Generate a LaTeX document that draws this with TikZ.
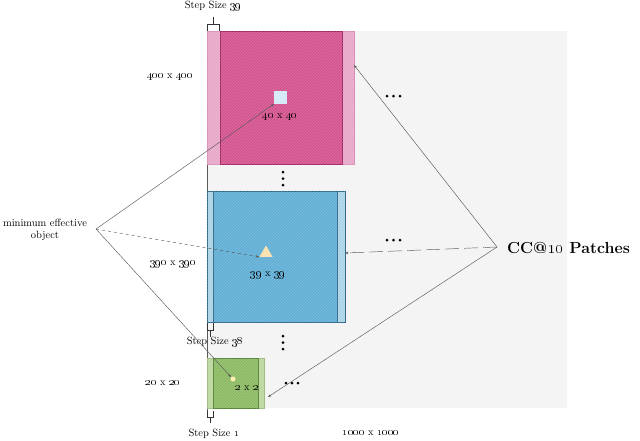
\documentclass[tikz,border=0pt]{standalone}
\usetikzlibrary{patterns,arrows.meta,shapes.geometric}
\definecolor{bgc}{RGB}{244,244,244}
\definecolor{pinkM}{RGB}{212,82,142}
\definecolor{pinkL}{RGB}{232,168,200}
\definecolor{pinkD}{RGB}{160,36,94}
\definecolor{blueM}{RGB}{96,174,214}
\definecolor{blueL}{RGB}{172,212,230}
\definecolor{blueD}{RGB}{46,104,140}
\definecolor{greenM}{RGB}{140,186,98}
\definecolor{greenL}{RGB}{188,215,160}
\definecolor{greenD}{RGB}{84,130,50}
\definecolor{sqc}{RGB}{214,234,248}
\definecolor{tric}{RGB}{248,226,178}
\definecolor{dotc}{RGB}{255,240,176}
\definecolor{linec}{RGB}{90,90,90}
\begin{document}
\begin{tikzpicture}[x=1pt,y=-1pt,
  lbl/.style={font=\fontsize{10.5}{12.5}\selectfont, inner sep=0pt, text=black},
  box/.style={anchor=north west, inner sep=0pt, outer sep=0pt, line width=0.6pt},
  hatch/.style={pattern=north east lines, pattern color=white, opacity=0.2},
  conn/.style={draw=linec, line width=0.45pt},
  tip/.style={-{Stealth[length=3.5pt,width=2.5pt]}},
  vdot/.style={circle, fill=black, inner sep=0pt, minimum size=3pt},
  brk/.style={draw=black!80, line width=0.5pt}]
\useasboundingbox (0,0) rectangle (640,440);
% background panel
\fill[bgc] (207,31) rectangle (567,408);
\draw[linec, line width=0.4pt] (207,24) -- (207,417);

% pink patch (400 x 400)
\node[box, fill=pinkL, draw=pinkL!80!pinkD, minimum width=147pt, minimum height=133pt] (pinkbox) at (207,31) {};
\node[box, fill=pinkM, draw=pinkD, minimum width=122pt, minimum height=133pt] (pinkmain) at (220,31) {};
\fill[hatch] (207,31) rectangle (354,164);
\node[box, fill=sqc, minimum width=13pt, minimum height=13pt] (sq) at (274,91) {};
\node[lbl] (l40) at (280,117) {\oldstylenums{40} x \oldstylenums{40}};

% blue patch (390 x 390)
\node[box, fill=blueL, draw=blueD, minimum width=138pt, minimum height=131pt] (bluebox) at (207,191) {};
\node[box, fill=blueM, draw=blueD, minimum width=124pt, minimum height=131pt] (bluemain) at (213,191) {};
\fill[hatch] (207,191) rectangle (345,322);
\node[regular polygon, regular polygon sides=3, fill=tric, inner sep=0pt, minimum size=15pt] (tri) at (266,253) {};
\node[lbl] (l39) at (268,275) {\oldstylenums{39} x \oldstylenums{39}};

% green patch (20 x 20)
\node[box, fill=greenL, draw=greenL!70!greenD, minimum width=57pt, minimum height=50pt] (greenbox) at (207,358) {};
\node[box, fill=greenM, draw=greenD, minimum width=45pt, minimum height=50pt] (greenmain) at (213,358) {};
\fill[hatch] (207,358) rectangle (264,408);
\node[circle, fill=dotc, inner sep=0pt, minimum size=5pt] (gdot) at (233,379) {};
\node[lbl] (l2) at (247,388) {\oldstylenums{2} x \oldstylenums{2}};

% size labels
\node[lbl] (s400) at (170,77) {\oldstylenums{400} x \oldstylenums{400}};
\node[lbl] (s390) at (173,264) {\oldstylenums{390} x \oldstylenums{390}};
\node[lbl] (s20) at (163,383) {\oldstylenums{20} x \oldstylenums{20}};
\node[lbl] (s1000) at (371,433) {\oldstylenums{1000} x \oldstylenums{1000}};

% step brackets
\draw[brk] (207,31) -- (207,24) -- (219,24) -- (219,31);
\draw[brk] (213,24) -- (213,17);
\node[lbl] (st39) at (213,6) {Step Size \oldstylenums{39}};
\draw[brk] (207,323) -- (207,330) -- (213,330) -- (213,323);
\draw[brk] (210,330) -- (210,337);
\node[lbl] (st38) at (215,342) {Step Size \oldstylenums{38}};
\draw[brk] (207,411) -- (207,417) -- (213,417) -- (213,411);
\draw[brk] (210,417) -- (210,423);
\node[lbl] (st1) at (214,434) {Step Size \oldstylenums{1}};

% vertical dots
\foreach \yy [count=\i] in {172,178.5,185} \node[vdot] (vd1\i) at (283,\yy) {};
\foreach \yy [count=\i] in {336,342.5,349} \node[vdot] (vd2\i) at (283,\yy) {};
% horizontal dots
\foreach \xx [count=\i] in {387,393.5,400} \node[vdot] (hd1\i) at (\xx,96) {};
\foreach \xx [count=\i] in {387,393.5,400} \node[vdot] (hd2\i) at (\xx,240) {};
\foreach \xx [count=\i] in {286,292,298} \node[vdot] (hd3\i) at (\xx,383) {};

% minimum effective object
\node[lbl, align=center] (meo) at (45,230) {minimum effective\\object};
\coordinate (meoA) at (96,229);
\draw[conn, tip] (meoA) -- (sq.south west);
\draw[conn, tip, dashed] (meoA) -- (tri.corner 2);
\draw[conn, tip] (meoA) -- (gdot.north west);

% CC@10 patches
\node[font=\fontsize{16}{19}\selectfont\bfseries, anchor=west, inner sep=0pt] (cc) at (507,248) {CC@\oldstylenums{10} Patches};
\coordinate (ccA) at (497,247);
\coordinate (pinkR) at (354,65);
\coordinate (blueR) at (345,253);
\coordinate (greenR) at (268,397);
\draw[conn, tip] (ccA) -- (pinkR);
\draw[conn, tip, dash pattern=on 14pt off 5pt] (ccA) -- (blueR);
\draw[conn, tip] (ccA) -- (greenR);
\end{tikzpicture}
\end{document}
